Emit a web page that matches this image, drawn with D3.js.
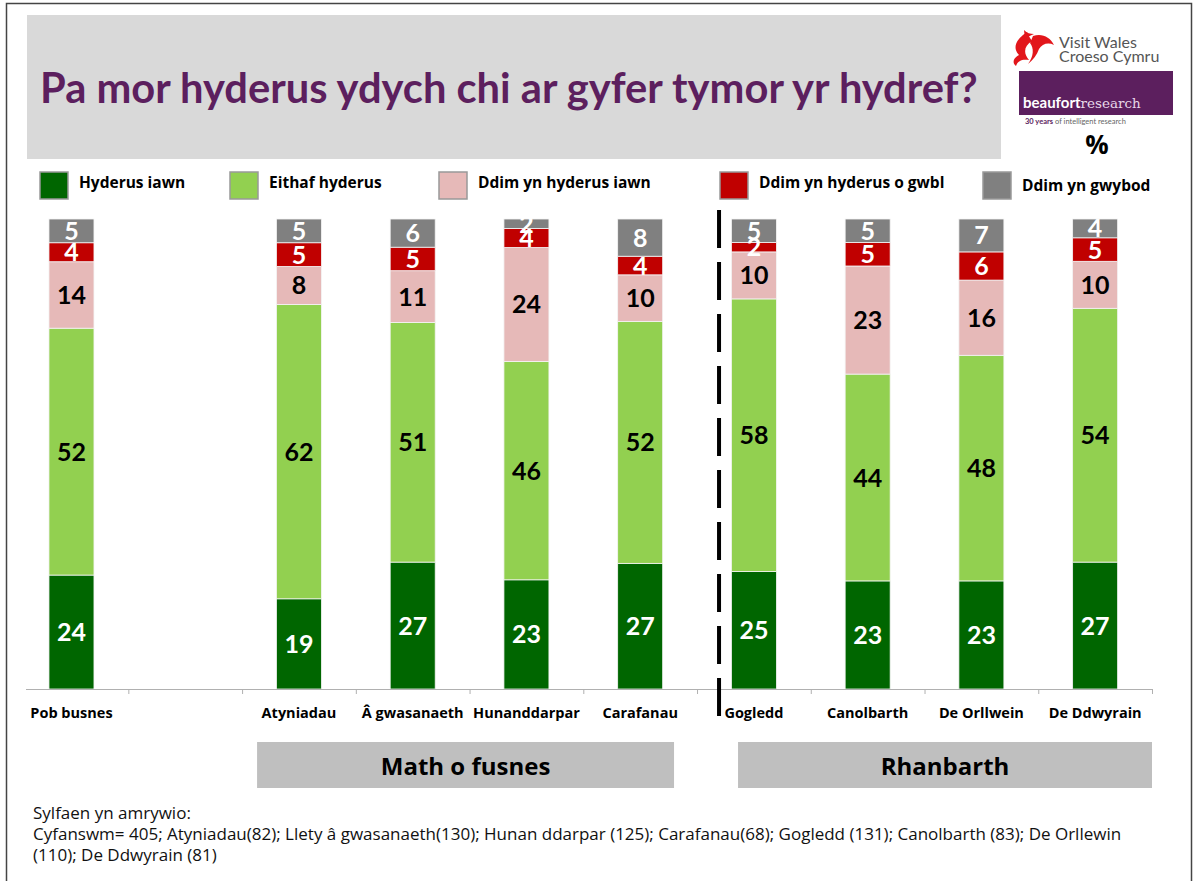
<!DOCTYPE html>
<html>
<head>
<meta charset="utf-8">
<script src="https://cdn.jsdelivr.net/npm/d3@7"></script>
<style>
  body { margin: 0; background: #fff; }
  svg { display: block; font-family: "Open Sans", Lato, sans-serif; }
</style>
</head>
<body>
<div id="chart"></div>
<script>
// chart data
const categories = ["Pob busnes", "", "Atyniadau", "Â gwasanaeth", "Hunanddarpar", "Carafanau",
                    "Gogledd", "Canolbarth", "De Orllwein", "De Ddwyrain"];
const seriesNames = ["Hyderus iawn", "Eithaf hyderus", "Ddim yn hyderus iawn", "Ddim yn hyderus o gwbl", "Ddim yn gwybod"];
const hyderusIawn   = [24, 0, 19, 27, 23, 27, 25, 23, 23, 27];
const eithafHyderus = [52, 0, 62, 51, 46, 52, 58, 44, 48, 54];
const ddimIawn      = [14, 0,  8, 11, 24, 10, 10, 23, 16, 10];
const ddimOGwbl     = [ 4, 0,  5,  5,  4,  4,  2,  5,  6,  5];
const ddimGwybod    = [ 5, 0,  5,  6,  2,  8,  5,  5,  7,  4];
const groups = [{ name: "Math o fusnes", from: 2, to: 5 }, { name: "Rhanbarth", from: 6, to: 9 }];
const footnote = [
  "Sylfaen yn amrywio:",
  "Cyfanswm= 405; Atyniadau(82); Llety â gwasanaeth(130); Hunan ddarpar (125); Carafanau(68); Gogledd (131); Canolbarth (83); De Orllewin",
  "(110); De Ddwyrain (81)"
];

const colors = ["#006600", "#92d050", "#e6b9b8", "#c00000", "#808080"];
const labelColors = ["#fff", "#000", "#000", "#fff", "#fff"];
const keys = ["s0", "s1", "s2", "s3", "s4"];
const allSeries = [hyderusIawn, eithafHyderus, ddimIawn, ddimOGwbl, ddimGwybod];

const rows = categories.map((c, i) => {
  let r = { cat: c, i: i };
  keys.forEach((k, j) => r[k] = allSeries[j][i]);
  return r;
});

const width = 1197, height = 881;
const svg = d3.select("#chart").append("svg").attr("width", width).attr("height", height);

// slide frame
svg.append("rect").attr("x", 6.5).attr("y", 3.5).attr("width", 1185).attr("height", 900)
  .attr("fill", "none").attr("stroke", "#444").attr("stroke-width", 1.5);

// title box
svg.append("rect").attr("x", 27).attr("y", 15).attr("width", 974).attr("height", 144).attr("fill", "#d9d9d9");
let title = svg.append("text").attr("x", 40).attr("y", 103)
  .attr("fill", "#5c1f5e").attr("font-weight", "bold").attr("font-size", 40)
  .attr("font-family", "Lato, sans-serif")
  .text("Pa mor hyderus ydych chi ar gyfer tymor yr hydref?");
let tw = title.node().getComputedTextLength();
title.attr("font-size", 40 * 938 / tw);

// logos
let logo = svg.append("g");
logo.append("path").attr("fill", "#e2161b")
  .attr("d", "M1027,32 C1016,39 1012,48 1019,55 C1013,58 1012,63 1016,66 C1018,60 1023,59 1029,60 C1023,53 1024,46 1032,41 C1030,38 1028,35 1027,32 Z");
logo.append("path").attr("fill", "#e2161b")
  .attr("d", "M1033,36 C1042,33 1050,37 1054,45 C1048,42 1042,44 1039,49 C1037,55 1033,60 1028,64 C1034,56 1034,48 1030,43 Z");
logo.append("path").attr("fill", "#e2161b")
  .attr("d", "M1024,30 C1027,33 1030,34 1034,34 C1030,36 1027,37 1025,39 Z");
logo.append("text").attr("x", 1059).attr("y", 48).attr("font-size", 16).attr("font-family", "Lato, sans-serif")
  .attr("fill", "#555").text("Visit Wales");
logo.append("text").attr("x", 1059).attr("y", 62).attr("font-size", 16).attr("font-family", "Lato, sans-serif")
  .attr("fill", "#555").text("Croeso Cymru");
logo.append("rect").attr("x", 1019).attr("y", 71).attr("width", 154).attr("height", 44).attr("fill", "#5c1f5e");
let bt = logo.append("text").attr("x", 1023).attr("y", 108).attr("font-size", 15).attr("fill", "#fff")
  .attr("font-family", "Lato, sans-serif");
bt.append("tspan").attr("font-weight", "bold").text("beaufort");
bt.append("tspan").attr("fill", "#e8d8e8").attr("font-family", "'DejaVu Serif', serif").attr("font-size", 13.5).text("research");
let yr = logo.append("text").attr("x", 1025).attr("y", 124).attr("font-size", 7.5).attr("fill", "#666")
  .attr("font-family", "Lato, sans-serif");
yr.append("tspan").attr("font-weight", "bold").attr("fill", "#5c1f5e").text("30 years");
yr.append("tspan").text(" of intelligent research");
svg.append("text").attr("x", 1097).attr("y", 154).attr("text-anchor", "middle")
  .attr("font-size", 26).attr("font-weight", "bold").text("%");

// legend
const legendX = [40, 230, 439, 720, 983];
let leg = svg.append("g").selectAll("g").data(seriesNames).join("g")
  .attr("transform", (d, i) => `translate(${legendX[i]},172)`);
leg.append("rect").attr("width", 28).attr("height", 27).attr("fill", (d, i) => colors[i])
  .attr("stroke", "#999").attr("stroke-width", 1.5);
leg.append("text").attr("x", 39).attr("y", (d, i) => i == 4 ? 19 : 16)
  .attr("font-size", 15.5).attr("font-weight", "bold").text(d => d);

// scales
const x = d3.scaleBand().domain(d3.range(categories.length)).range([14.6, 1152]);
const y = d3.scaleLinear().domain([0, 1]).range([689, 219]);
const barW = 45;
const cx = i => x(i) + x.bandwidth() / 2;

const stack = d3.stack().keys(keys).offset(d3.stackOffsetExpand);
const stacked = stack(rows);

let gBars = svg.append("g");
let layers = gBars.selectAll("g").data(stacked).join("g").attr("fill", (d, i) => colors[i]);
layers.selectAll("rect").data(d => d.filter(p => p.data.cat !== ""))
  .join("rect")
  .attr("x", d => cx(d.data.i) - barW / 2)
  .attr("width", barW)
  .attr("y", d => y(d[1]))
  .attr("height", d => y(d[0]) - y(d[1]))
  .attr("stroke", "#f4f4f4").attr("stroke-width", 0.8);

// value labels
let gLab = svg.append("g").attr("font-family", "Lato, sans-serif");
stacked.forEach((layer, j) => {
  gLab.selectAll(null).data(layer.filter(p => p.data.cat !== ""))
    .join("text")
    .attr("x", d => cx(d.data.i))
    .attr("y", d => (y(d[0]) + y(d[1])) / 2 + 9)
    .attr("text-anchor", "middle")
    .attr("font-size", 25).attr("font-weight", "bold")
    .attr("fill", labelColors[j])
    .text(d => d.data[layer.key]);
});

// x axis with ticks at band edges
const edge = d3.scaleLinear().domain([0, categories.length]).range(x.range());
let ax = svg.append("g").attr("transform", "translate(0,689)")
  .call(d3.axisBottom(edge).tickValues(d3.range(1, categories.length + 1)).tickFormat("").tickSize(5).tickSizeOuter(0));
ax.select(".domain").attr("d", "M26,0.5H1152").attr("stroke", "#b0b0b0");
ax.selectAll(".tick line").attr("stroke", "#b0b0b0");

svg.append("g").selectAll("text").data(rows.filter(r => r.cat !== "")).join("text")
  .attr("x", d => cx(d.i)).attr("y", 718).attr("text-anchor", "middle")
  .attr("font-size", 14.5).attr("font-weight", "bold").text(d => d.cat);

// dashed divider between business type and region
svg.append("line").attr("x1", x(6) + 22).attr("x2", x(6) + 22).attr("y1", 210).attr("y2", 720)
  .attr("stroke", "#000").attr("stroke-width", 4).attr("stroke-dasharray", "38,14");

// group boxes
const groupBox = [[x(2) + 15, x(5) + x.bandwidth() - 23], [x(6) + 41, 1152]];
let gg = svg.append("g").selectAll("g").data(groups).join("g");
gg.append("rect").attr("x", (d, i) => groupBox[i][0]).attr("y", 742)
  .attr("width", (d, i) => groupBox[i][1] - groupBox[i][0]).attr("height", 46).attr("fill", "#bfbfbf");
gg.append("text").attr("x", (d, i) => (groupBox[i][0] + groupBox[i][1]) / 2).attr("y", 775)
  .attr("text-anchor", "middle").attr("font-size", 24).attr("font-weight", "bold").text(d => d.name);

// footnote
svg.append("g").selectAll("text").data(footnote).join("text")
  .attr("x", 33).attr("y", (d, i) => 819 + i * 21)
  .attr("font-size", 17).attr("fill", "#111").text(d => d);
</script>
</body>
</html>
